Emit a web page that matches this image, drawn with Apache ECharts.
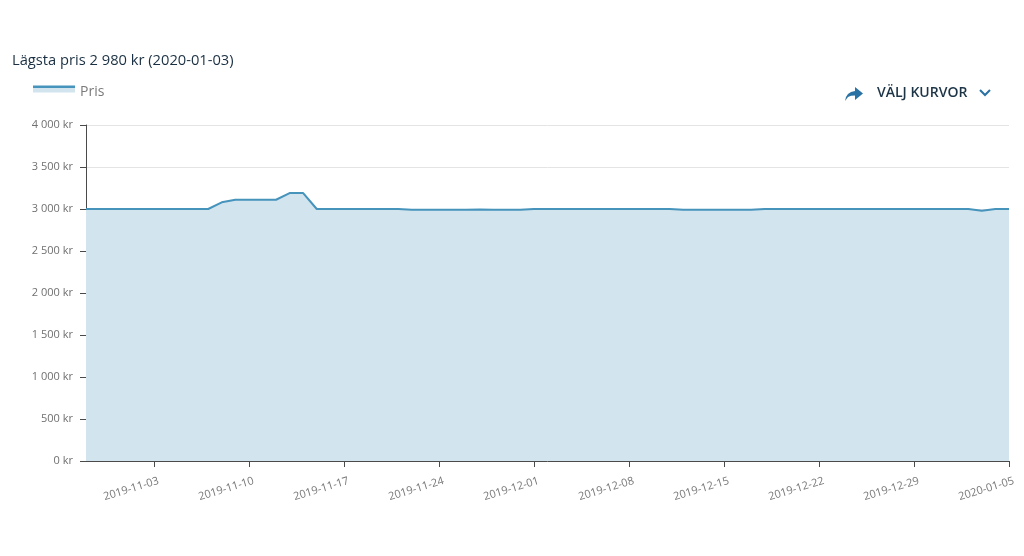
<!DOCTYPE html>
<html>
<head>
<meta charset="utf-8">
<script src="https://cdn.jsdelivr.net/npm/echarts@6/dist/echarts.min.js"></script>
<style>
html,body{margin:0;padding:0;background:#fff;}
#chart{width:1024px;height:556px;}
</style>
</head>
<body>
<div id="chart"></div>
<script>
// ---- data ----
var startDate = '2019-10-29';
var endDate = '2020-01-05';
var seriesName = 'Pris';
var prices = [
  // 2019-10-29 .. 2019-11-06
  3000, 3000, 3000, 3000, 3000, 3000, 3000, 3000, 3000,
  // 2019-11-07 .. 2019-11-15
  3000, 3080, 3110, 3110, 3110, 3110, 3190, 3190, 3000,
  // 2019-11-16 .. 2019-11-30
  3000, 3000, 3000, 3000, 3000, 3000, 2990, 2990, 2990, 2990, 2990, 2995, 2990, 2990, 2990,
  // 2019-12-01 .. 2019-12-17
  3000, 3000, 3000, 3000, 3000, 3000, 3000, 3000, 3000, 3000, 3000, 2990, 2990, 2990, 2990, 2990, 2990,
  // 2019-12-18 .. 2020-01-02
  3000, 3000, 3000, 3000, 3000, 3000, 3000, 3000, 3000, 3000, 3000, 3000, 3000, 3000, 3000, 3000,
  // 2020-01-03 .. 2020-01-05
  2980, 3000, 3000
];
var yTicks = [0, 500, 1000, 1500, 2000, 2500, 3000, 3500, 4000];

// ---- build date categories (axis) ----
function fmt(d){
  var m = d.getUTCMonth()+1, day = d.getUTCDate();
  return d.getUTCFullYear()+'-'+(m<10?'0':'')+m+'-'+(day<10?'0':'')+day;
}
var dates = [];
for (var t = Date.parse(startDate+'T00:00:00Z'); t <= Date.parse(endDate+'T00:00:00Z'); t += 86400000) {
  dates.push(fmt(new Date(t)));
}
function sep(v){ return String(v).replace(/\B(?=(\d{3})+(?!\d))/g, ' '); }

var minVal = Math.min.apply(null, prices);
var minIdx = prices.lastIndexOf(minVal);
var titleText = 'Lägsta pris ' + sep(minVal) + ' kr (' + dates[minIdx] + ')';

function isSunday(idx){ return new Date(dates[idx]+'T00:00:00Z').getUTCDay() === 0; }

var lineColor = '#4693bc';
var areaColor = '#d2e4ee';
var FONT = '"Open Sans", "Noto Sans", sans-serif';

var chart = echarts.init(document.getElementById('chart'), null, {renderer:'canvas'});
chart.setOption({
  animation: false,
  backgroundColor: '#fff',
  textStyle: { fontFamily: FONT },
  title: {
    text: titleText,
    left: 7, top: 48,
    textStyle: { fontFamily: FONT, fontSize: 14.7, fontWeight: 'normal', color: '#1a3042' }
  },
  legend: {
    left: 33, top: 85,
    padding: 0,
    itemWidth: 42, itemHeight: 13,
    itemGap: 5,
    icon: 'path://M0,0H42V7H0Z M0,13L0.01,13Z',
    data: [{
      name: seriesName,
      itemStyle: {
        color: new echarts.graphic.LinearGradient(0, 0, 0, 1, [
          {offset: 0, color: lineColor}, {offset: 0.17, color: lineColor},
          {offset: 0.17, color: areaColor}, {offset: 1, color: areaColor}
        ])
      }
    }],
    textStyle: { fontFamily: FONT, fontSize: 14, color: '#7a7a7a' }
  },
  grid: { left: 86, right: 15, top: 125, bottom: 95, containLabel: false },
  xAxis: {
    type: 'category',
    data: dates,
    boundaryGap: false,
    axisLine: { lineStyle: { color: '#4a4a4a', width: 1 } },
    axisTick: { show: true, interval: function(i){ return isSunday(i); }, length: 6, lineStyle: { color: '#4a4a4a' } },
    axisLabel: {
      interval: function(i){ return isSunday(i); },
      rotate: 17, color: '#777', fontSize: 11, fontFamily: FONT, margin: 21,
      padding: [0, -5, 0, 0]
    },
    splitLine: { show: false }
  },
  yAxis: {
    type: 'value',
    min: yTicks[0], max: yTicks[yTicks.length-1], interval: 500,
    axisLine: { show: true, lineStyle: { color: '#4a4a4a', width: 1 } },
    axisTick: { show: true, length: 6, lineStyle: { color: '#4a4a4a' } },
    axisLabel: {
      color: '#707070', fontSize: 11, fontFamily: FONT, margin: 13,
      formatter: function(v){ return sep(v) + ' kr'; }
    },
    splitLine: { show: true, lineStyle: { color: '#e4e4e4', width: 1 } }
  },
  series: [{
    name: seriesName,
    type: 'line',
    data: prices,
    showSymbol: false,
    symbol: 'none',
    lineStyle: { color: lineColor, width: 2 },
    itemStyle: { color: lineColor },
    areaStyle: { color: areaColor, opacity: 1 },
    z: 2
  }],
  graphic: [
    {
      type: 'polygon',
      shape: { points: [[845,101],[846,97],[848,94],[851,92],[855,91],[855,87],[863,93.5],[855,100],[855,95.5],[851,95.7],[848,97],[845,101]] },
      style: { fill: '#2a72a3' }
    },
    {
      type: 'text',
      x: 877, y: 93,
      style: { text: 'VÄLJ KURVOR', font: '600 14px "Open Sans", sans-serif', fill: '#1c3446', verticalAlign: 'middle', textAlign: 'left' }
    },
    {
      type: 'polyline',
      shape: { points: [[980, 90], [985, 95], [990, 90]] },
      style: { stroke: '#2a72a3', lineWidth: 2, fill: null }
    }
  ]
});
</script>
</body>
</html>
